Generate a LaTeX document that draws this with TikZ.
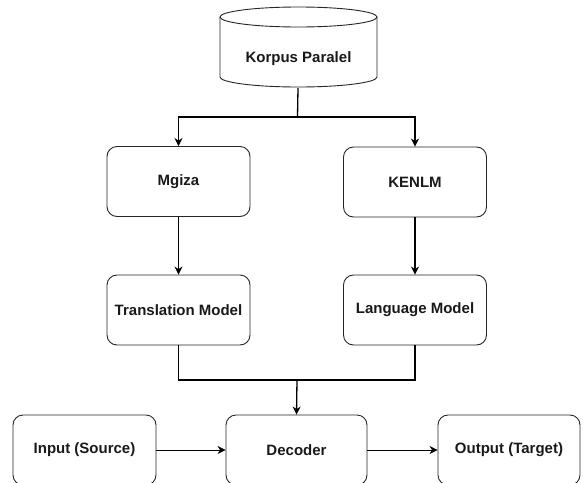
\documentclass[tikz,border=0pt]{standalone}
\usepackage{fontspec}
\setmainfont{Liberation Sans}
\usetikzlibrary{arrows.meta,positioning}
\begin{document}
\begin{tikzpicture}[x=1pt,y=1pt,
  box/.style={draw=black!85, line width=0.9pt, rounded corners=10pt, minimum width=143pt, minimum height=70pt, inner sep=0pt, font=\fontsize{15}{18}\selectfont\bfseries, text=black!90},
  conn/.style={draw=black, line width=1.3pt},
  arr/.style={conn, -{Stealth[length=8pt,width=8pt,inset=2.5pt]}}]
\useasboundingbox (0,0) rectangle (583,-482);
\clip (0,0) rectangle (583,-482);
% cylinder
\draw[draw=black!85, line width=0.9pt, fill=white] (220,-17) -- (220,-77) arc[start angle=180, end angle=360, x radius=78.5pt, y radius=10pt] -- (377,-17);
\draw[draw=black!85, line width=0.9pt] (298.5,-17) ellipse[x radius=78.5pt, y radius=10pt];
\node[inner sep=0pt, minimum width=157pt, minimum height=81pt] (korpus) at (298,-47.5) {};
\node[font=\fontsize{15}{18}\selectfont\bfseries, text=black!90] (korpuslabel) at (298.5,-59) {Korpus Paralel};
% boxes
\node[box] (mgiza) at (178.5,-181.5) {Mgiza};
\node[box] (trans) at (178.5,-310) {Translation Model};
\node[box] (kenlm) at (415,-182) {KENLM};
\node[box] (lang) at (415,-310) {Language Model};
\node[box] (input) at (84.5,-450) {Input (Source)};
\node[box, minimum width=141pt] (dec) at (296.5,-450) {Decoder};
\node[box, minimum width=142pt] (output) at (509,-450) {Output (Target)};
% connectors
\coordinate (split) at (297.5,-117);
\coordinate (merge) at (297,-380);
\draw[conn] (korpus.south) -- (split);
\draw[arr] (split) -| (mgiza.north);
\draw[arr] (split) -| (kenlm.north);
\draw[arr] (mgiza) -- (trans);
\draw[arr] (kenlm) -- (lang);
\draw[conn] (trans.south) |- (merge) -| (lang.south);
\draw[arr] (merge) -- (dec.north);
\draw[arr, line width=1pt] (input) -- (dec);
\draw[arr, line width=1pt] (dec) -- (output);
\end{tikzpicture}
\end{document}
